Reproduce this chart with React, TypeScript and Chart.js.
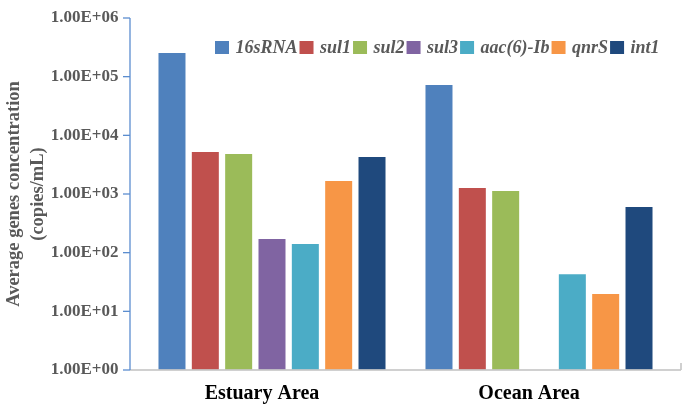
import React, { useEffect, useRef } from 'react';
import { Chart, registerables } from 'chart.js';

Chart.register(...registerables);

const FONT = '"Liberation Serif", "Times New Roman", serif';

const categories = ['Estuary Area', 'Ocean Area'];
const seriesNames = ['16sRNA', 'sul1', 'sul2', 'sul3', 'aac(6)-Ib', 'qnrS', 'int1'];
const seriesColors = ['#4F81BD', '#C0504D', '#9BBB59', '#8064A2', '#4BACC6', '#F79646', '#1F497D'];

const values16sRNA = [2.53e5, 7.2e4];
const valuesSul1 = [5.2e3, 1.27e3];
const valuesSul2 = [4.8e3, 1.12e3];
const valuesSul3 = [171, null];
const valuesAac = [140, 43];
const valuesQnrS = [1.66e3, 19.7];
const valuesInt1 = [4.27e3, 600];

const yTickValues = [1, 10, 100, 1000, 10000, 100000, 1000000];
const yTitle = ['Average genes concentration', '(copies/mL)'];

const seriesValues = [values16sRNA, valuesSul1, valuesSul2, valuesSul3, valuesAac, valuesQnrS, valuesInt1];

function sci(v: number): string {
  const e = Math.round(Math.log10(v));
  const m = v / Math.pow(10, e);
  return m.toFixed(2) + 'E' + (e < 0 ? '-' : '+') + String(Math.abs(e)).padStart(2, '0');
}

const axisDecor = {
  id: 'axisDecor',
  afterDraw(chart: any) {
    const ctx = chart.ctx;
    const area = chart.chartArea;
    const yScale = chart.scales.y;
    const axisX = area.left - 8.5;
    const endX = area.right + 8.5;
    ctx.save();
    ctx.strokeStyle = 'rgba(200,200,200,0.85)';
    ctx.lineWidth = 2;
    ctx.beginPath();
    ctx.moveTo(axisX, area.bottom);
    ctx.lineTo(endX, area.bottom);
    ctx.stroke();
    ctx.beginPath();
    ctx.moveTo(endX, area.bottom - 7);
    ctx.lineTo(endX, area.bottom);
    ctx.stroke();
    ctx.strokeStyle = '#5B8DCF';
    ctx.lineWidth = 1.3;
    ctx.beginPath();
    ctx.moveTo(axisX, area.top);
    ctx.lineTo(axisX, area.bottom);
    ctx.stroke();
    yScale.ticks.forEach((t: any, i: number) => {
      let py = yScale.getPixelForValue(t.value);
      if (!isFinite(py)) py = yScale.getPixelForTick(i);
      ctx.beginPath();
      ctx.moveTo(axisX - 7, py);
      ctx.lineTo(axisX, py);
      ctx.stroke();
    });
    ctx.restore();
  },
};

const legendDraw = {
  id: 'legendDraw',
  afterDraw(chart: any) {
    const ctx = chart.ctx;
    const area = chart.chartArea;
    ctx.save();
    ctx.font = 'italic bold 18px ' + FONT;
    ctx.textBaseline = 'middle';
    ctx.textAlign = 'left';
    let x = area.left + 76.5;
    const yMid = area.top + 29.5;
    chart.data.datasets.forEach((ds: any) => {
      ctx.fillStyle = ds.backgroundColor;
      ctx.fillRect(x, yMid - 6.5, 14, 13);
      x += 14 + 6.5;
      ctx.fillStyle = '#595959';
      ctx.fillText(ds.label, x, yMid + 0.5);
      x += ctx.measureText(ds.label).width + 2;
    });
    ctx.restore();
  },
};

export default function App() {
  const canvasRef = useRef<HTMLCanvasElement | null>(null);

  useEffect(() => {
    if (!canvasRef.current) return;
    const chart = new Chart(canvasRef.current, {
      type: 'bar',
      data: {
        labels: categories,
        datasets: seriesNames.map((name, i) => ({
          label: name,
          data: seriesValues[i],
          backgroundColor: seriesColors[i],
          borderWidth: 0,
          barPercentage: 0.81,
          categoryPercentage: 0.874,
        })),
      },
      options: {
        responsive: false,
        animation: false,
        layout: { padding: { left: 0, top: 18, right: 10.5, bottom: 0 } },
        plugins: {
          legend: { display: false },
          tooltip: { enabled: false },
        },
        scales: {
          x: {
            type: 'category',
            offset: true,
            grid: { display: false, drawTicks: false },
            border: { display: false },
            ticks: {
              color: '#000000',
              font: { family: FONT, size: 20, weight: 'bold' },
              padding: 12,
              labelOffset: -10,
            },
            afterFit: (s: any) => {
              s.height = 42;
              s.paddingLeft = 0;
              s.paddingRight = 0;
            },
          },
          y: {
            type: 'logarithmic',
            min: 1,
            max: 1e6,
            grid: { display: false, drawTicks: false },
            border: { display: false },
            afterBuildTicks: (s: any) => {
              s.ticks = yTickValues.map((v) => ({ value: v, major: true }));
            },
            ticks: {
              autoSkip: false,
              callback: (v: any) => sci(Number(v)),
              color: '#595959',
              font: { family: FONT, size: 17, weight: 'bold' },
              padding: 20,
            },
            title: {
              display: true,
              text: yTitle,
              color: '#595959',
              font: { family: FONT, size: 18.5, weight: 'bold', lineHeight: 24 / 18.5 },
              padding: { top: 2, bottom: 0 },
            },
            afterFit: (s: any) => {
              s.width = 138.5;
              s.paddingTop = 0;
              s.paddingBottom = 0;
            },
          },
        },
      },
      plugins: [axisDecor, legendDraw],
    });
    return () => chart.destroy();
  }, []);

  return (
    <div style={{ position: 'fixed', left: 0, top: 0, width: 683, height: 412, background: '#ffffff' }}>
      <canvas ref={canvasRef} width={683} height={412} style={{ display: 'block' }} />
    </div>
  );
}
